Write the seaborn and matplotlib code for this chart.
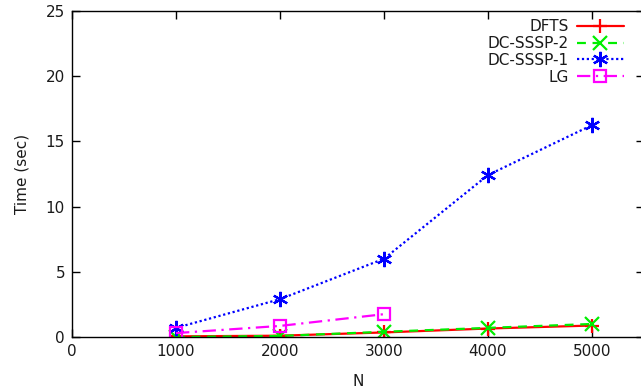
import matplotlib
matplotlib.use("Agg")
import matplotlib.pyplot as plt
import seaborn as sns
import pandas as pd

# Problem sizes and measured run times (seconds)
n_values = [1000, 2000, 3000, 4000, 5000]
dfts = [0.05, 0.1, 0.35, 0.65, 0.88]
dc_sssp_2 = [0.0, 0.08, 0.4, 0.7, 1.0]
dc_sssp_1 = [0.7, 2.9, 6.0, 12.42, 16.25]
lg_n = [1000, 2000, 3000]
lg = [0.3, 0.85, 1.75]

x_ticks = [0, 1000, 2000, 3000, 4000, 5000]
y_ticks = [0, 5, 10, 15, 20, 25]

sns.set_style("ticks")
plt.rcParams["font.family"] = ["DejaVu Sans"]
plt.rcParams["text.color"] = "#1a1a1a"
plt.rcParams["axes.labelcolor"] = "#1a1a1a"

fig = plt.figure(figsize=(6.41, 3.92), dpi=100)
ax = fig.add_axes([72 / 641, 55 / 392, 572 / 641, 326 / 392])

series = [
    ("DFTS", n_values, dfts, "#ff0000", "+", (None, None)),
    ("DC-SSSP-2", n_values, dc_sssp_2, "#00ee00", "x", (4, 3)),
    ("DC-SSSP-1", n_values, dc_sssp_1, "#0000ff", "*", (1, 1.2)),
    ("LG", lg_n, lg, "#ff00ff", "s", (6, 2.5, 1, 2.5)),
]

for name, xs, ys, color, marker, dash in series:
    df = pd.DataFrame({"N": xs, "Time": ys})
    sns.lineplot(
        data=df, x="N", y="Time", ax=ax, color=color, marker=marker,
        linewidth=1.6, markersize=10 if marker != "s" else 8,
        markerfacecolor="none" if marker == "s" else color,
        markeredgecolor=color, markeredgewidth=1.6, label=name,
    )
    ln = ax.lines[-1]
    if dash[0] is not None:
        ln.set_dashes(dash)
    if marker == "*":
        ln.set_marker((6, 2, 0))
        ln.set_markersize(11)

ax.set_xlim(0, 5500)
ax.set_ylim(0, 25)
ax.set_xticks(x_ticks)
ax.set_yticks(y_ticks)
ax.tick_params(direction="in", top=True, right=True, length=6, width=1,
               labelsize=11, colors="black", labelcolor="#1a1a1a", pad=5)
for s in ax.spines.values():
    s.set_visible(True)
    s.set_color("black")
    s.set_linewidth(1)
ax.set_xlabel("N", fontsize=11, labelpad=11)
ax.set_ylabel("Time (sec)", fontsize=11, labelpad=12)

handles, labels = ax.get_legend_handles_labels()
for h, (_, _, _, _, marker, dash) in zip(handles, series):
    if dash[0] is not None:
        h.set_dashes(dash)
    if marker == "*":
        h.set_marker((6, 2, 0))
        h.set_markersize(11)
ax.legend(handles, labels, loc="upper right",
          bbox_to_anchor=(630 / 641, 1 - 13 / 392),
          bbox_transform=fig.transFigure, frameon=False, markerfirst=False,
          fontsize=11, handlelength=3.1, handletextpad=0.5,
          labelspacing=0.12, borderaxespad=0)

fig.savefig("out.png", dpi=100)
